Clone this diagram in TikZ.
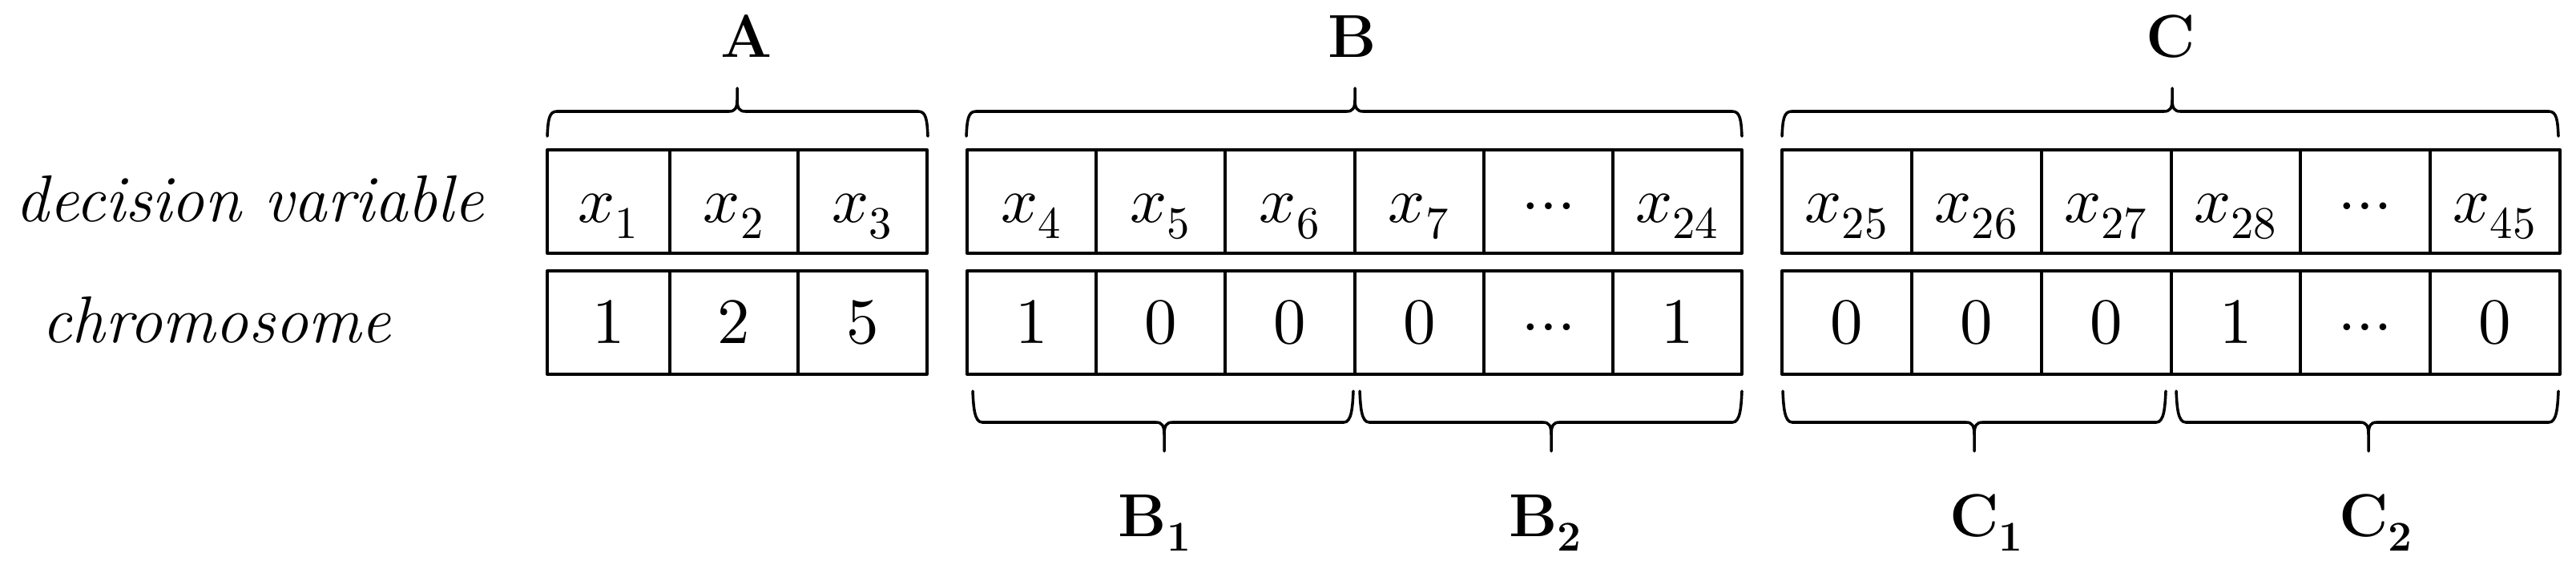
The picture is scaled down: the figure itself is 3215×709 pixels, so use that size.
\documentclass[tikz,border=0pt]{standalone}
\usepackage{unicode-math}
\tikzset{
  every node/.style={font=\fontsize{23}{27}\selectfont},
  cellbox/.style={draw, line width=1.15pt, line join=round, inner sep=0pt, minimum height=1.29cm, text height=20pt, text depth=5pt},
  bracestyle/.style={line width=1pt, line cap=round},
  grouplabel/.style={font=\fontsize{21.5}{25}\selectfont, anchor=base, inner sep=0pt},
  rowlabel/.style={anchor=base west, inner sep=0pt, font=\fontsize{23.5}{27}\selectfont\itshape},
}
\newcommand\mycol[5]{%
  \node[cellbox, minimum width={(#3-#2)*0.01cm}] (v#1) at ({(#2+#3)/2},251.5) {$#4$};
  \node[cellbox, minimum width={(#3-#2)*0.01cm}] (g#1) at ({(#2+#3)/2},402.5) {$#5$};}
\newcommand\tbrace[3]{%
  \draw[bracestyle] (#1,170) .. controls (#1+1,150) and (#1+2,139) .. (#1+12,139) -- (#2-10,139) .. controls (#2-3,139) and (#2,135) .. (#2,125) -- (#2,110);
  \draw[bracestyle] (#3,170) .. controls (#3-1,150) and (#3-2,139) .. (#3-12,139) -- (#2+10,139) .. controls (#2+3,139) and (#2,135) .. (#2,125);}
\newcommand\bbrace[3]{%
  \draw[bracestyle] (#1,488) .. controls (#1+1,508) and (#1+2,527) .. (#1+12,527) -- (#2-10,527) .. controls (#2-3,527) and (#2,531) .. (#2,542) -- (#2,563);
  \draw[bracestyle] (#3,488) .. controls (#3-1,508) and (#3-2,527) .. (#3-12,527) -- (#2+10,527) .. controls (#2+3,527) and (#2,531) .. (#2,542);}
\begin{document}
\begin{tikzpicture}[x=0.01cm, y=-0.01cm]
\useasboundingbox (0,0) rectangle (3215,709);
% row labels
\node[rowlabel] (dv) at (19,276) {decision variable};
\node[rowlabel] (chr) at (52,427) {chromosome};
% cells
\mycol{1}{683}{836}{x_{1}}{1}
\mycol{2}{836}{996}{x_{2}}{2}
\mycol{3}{996}{1157}{x_{3}}{5}
\mycol{4}{1207}{1368}{x_{4}}{1}
\mycol{5}{1368}{1529}{x_{5}}{0}
\mycol{6}{1529}{1691}{x_{6}}{0}
\mycol{7}{1691}{1852}{x_{7}}{0}
\mycol{8}{1852}{2013}{\cdots}{\cdots}
\mycol{9}{2013}{2174}{x_{24}}{1}
\mycol{10}{2224}{2386}{x_{25}}{0}
\mycol{11}{2386}{2548}{x_{26}}{0}
\mycol{12}{2548}{2710}{x_{27}}{0}
\mycol{13}{2710}{2871}{x_{28}}{1}
\mycol{14}{2871}{3033}{\cdots}{\cdots}
\mycol{15}{3033}{3195}{x_{45}}{0}
% braces
\tbrace{683}{920}{1158}
\tbrace{1206}{1691}{2174}
\tbrace{2224}{2711}{3193}
\bbrace{1214}{1453}{1689}
\bbrace{1697}{1936}{2174}
\bbrace{2225}{2464}{2703}
\bbrace{2716}{2956}{3193}
% group labels
\node[grouplabel] (A) at (932,71) {$\mathbf{A}$};
\node[grouplabel] (B) at (1688,71) {$\mathbf{B}$};
\node[grouplabel] (C) at (2709,71) {$\mathbf{C}$};
\node[grouplabel] (B1) at (1442,669) {$\mathbf{B}_{\mathbf{1}}$};
\node[grouplabel] (B2) at (1929,669) {$\mathbf{B}_{\mathbf{2}}$};
\node[grouplabel] (C1) at (2480,669) {$\mathbf{C}_{\mathbf{1}}$};
\node[grouplabel] (C2) at (2966,669) {$\mathbf{C}_{\mathbf{2}}$};
\end{tikzpicture}
\end{document}
